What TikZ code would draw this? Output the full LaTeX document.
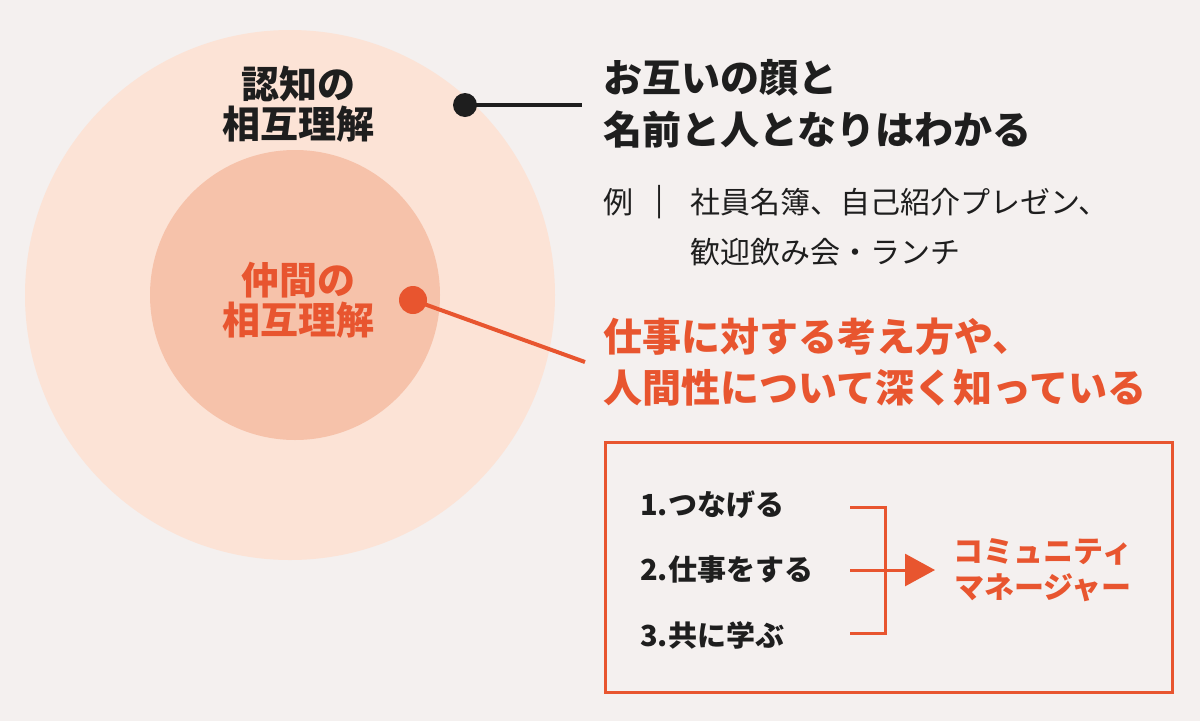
\documentclass[tikz,border=0pt]{standalone}
\usepackage{fontspec}
\setmainfont{Noto Sans CJK JP}
\usetikzlibrary{arrows.meta}
\definecolor{bg}{HTML}{F4F0EF}
\definecolor{outerc}{HTML}{FCE3D6}
\definecolor{innerc}{HTML}{F6C2AA}
\definecolor{org}{HTML}{E8552F}
\definecolor{dk}{HTML}{1E1E1E}
\tikzset{
 big/.style={font=\fontsize{38}{55}\selectfont\bfseries, text=dk, align=center, inner sep=0},
 lead/.style={font=\fontsize{39}{50}\selectfont\bfseries, anchor=west, inner sep=0},
 ex/.style={font=\fontsize{30}{30}\selectfont, text=dk, anchor=west, inner sep=0},
 item/.style={font=\fontsize{29}{30}\selectfont\bfseries, text=dk, anchor=west, inner sep=0},
}
\begin{document}
\begin{tikzpicture}[x=1pt,y=-1pt]
\fill[bg] (0,0) rectangle (1200,721);
\useasboundingbox (0,0) rectangle (1200,721);
\fill[outerc] (290,295) circle (265);
\fill[innerc] (295,295) circle (145);
\node[big] (t1) at (298,104) {認知の\\[-15pt]相互理解};
\node[big,text=org] (t2) at (298,300) {仲間の\\[-15pt]相互理解};
\node[circle,fill=dk,minimum size=24,inner sep=0] (d1) at (465,105) {};
\coordinate (e1) at (582,105);
\draw[dk,line width=4] (d1.center) -- (e1);
\node[circle,fill=org,minimum size=28,inner sep=0] (d2) at (413,300) {};
\coordinate (e2) at (585,362);
\draw[org,line width=4] (d2.center) -- (e2);
\node[lead,text=dk] (a1) at (603,78) {お互いの顔と};
\node[lead,text=dk] (a2) at (603,130) {名前と人となりはわかる};
\node[ex] (b0) at (603,202) {例};
\node[ex] (bb) at (655,202) {|};
\node[ex] (b1) at (690,202) {社員名簿、自己紹介プレゼン、};
\node[ex] (b2) at (690,252) {歓迎飲み会・ランチ};
\node[lead,text=org] (c1) at (603,337) {仕事に対する考え方や、};
\node[lead,text=org] (c2) at (603,388) {人間性について深く知っている};
\node[draw=org,line width=3,minimum width=567,minimum height=250,inner sep=0] (box) at (888.5,567) {};
\node[item] (i1) at (640,505) {1.つなげる};
\node[item] (i2) at (640,570) {2.仕事をする};
\node[item] (i3) at (640,635) {3.共に学ぶ};
\coordinate (k1) at (850,507);
\coordinate (k2) at (885,507);
\coordinate (k3) at (885,633);
\coordinate (k4) at (850,633);
\coordinate (m1) at (850,570);
\coordinate (m2) at (935,570);
\draw[org,line width=3] (k1) -- (k2) -- (k3) -- (k4);
\draw[org,line width=3,-{Triangle[length=30,width=32]}] (m1) -- (m2);
\node[font=\fontsize{30}{30}\selectfont\bfseries,text=org,align=center,inner sep=0] (cm) at (1043,570) {コミュニティ\\[6pt]マネージャー};
\end{tikzpicture}
\end{document}
